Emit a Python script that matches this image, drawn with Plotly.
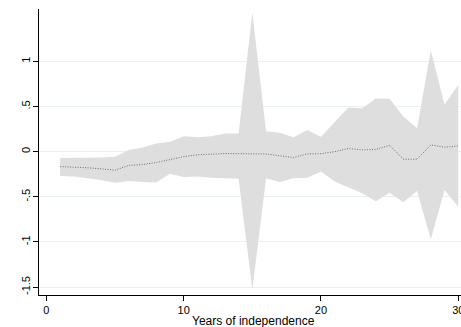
import plotly.graph_objects as go

years = list(range(1, 31))
estimate = [-0.165, -0.168, -0.178, -0.19, -0.205, -0.152, -0.142, -0.12, -0.085, -0.055,
            -0.035, -0.028, -0.02, -0.022, -0.02, -0.025, -0.045, -0.065, -0.025, -0.022,
            0.0, 0.035, 0.02, 0.025, 0.07, -0.083, -0.083, 0.075, 0.05, 0.063]
upper = [-0.07, -0.07, -0.07, -0.065, -0.055, 0.02, 0.045, 0.09, 0.11, 0.17,
         0.16, 0.17, 0.2, 0.2, 1.54, 0.225, 0.21, 0.16, 0.24, 0.165,
         0.33, 0.49, 0.48, 0.59, 0.585, 0.39, 0.26, 1.12, 0.52, 0.74]
lower = [-0.27, -0.275, -0.295, -0.315, -0.345, -0.325, -0.335, -0.34, -0.245, -0.28,
         -0.275, -0.29, -0.295, -0.3, -1.53, -0.295, -0.335, -0.295, -0.29, -0.22,
         -0.33, -0.395, -0.46, -0.55, -0.455, -0.56, -0.435, -0.97, -0.425, -0.61]

x_tickvals = [0, 10, 20, 30]
x_ticktext = ["0", "10", "20", "30"]
y_tickvals = [-1.5, -1, -0.5, 0, 0.5, 1]
y_ticktext = ["-1.5", "-1", "-.5", "0", ".5", "1"]

font = "Liberation Sans, Arial, sans-serif"

fig = go.Figure()
fig.add_trace(go.Scatter(x=years, y=upper, mode="lines", line=dict(width=0, color="#dedede"),
                         showlegend=False, hoverinfo="skip"))
fig.add_trace(go.Scatter(x=years, y=lower, mode="lines", line=dict(width=0, color="#dedede"),
                         fill="tonexty", fillcolor="#dedede", showlegend=False, hoverinfo="skip"))
fig.add_trace(go.Scatter(x=years, y=estimate, mode="lines",
                         line=dict(width=1, color="#707070", dash="1px,1.5px"), showlegend=False))

fig.update_layout(
    width=461, height=327,
    margin=dict(l=39, r=0, t=9, b=32, pad=0),
    paper_bgcolor="white", plot_bgcolor="white",
    font=dict(family=font, size=11, color="black"),
    xaxis=dict(range=[-0.54, 30.2], tickvals=x_tickvals, ticktext=x_ticktext, automargin=False,
               showgrid=False, zeroline=False, showline=True, linecolor="black", linewidth=1,
               ticks="outside", ticklen=5, tickcolor="black", tickwidth=1,
               ticklabeloverflow="allow",
               tickfont=dict(size=11, family=font)),
    yaxis=dict(range=[-1.587, 1.58], tickvals=y_tickvals, ticktext=y_ticktext, automargin=False,
               showgrid=True, gridcolor="#e8f0f1", gridwidth=1, zeroline=False,
               showline=True, linecolor="black", linewidth=1,
               ticks="outside", ticklen=5, tickcolor="black", tickwidth=1,
               ticklabelstandoff=-1,
               tickangle=-90, tickfont=dict(size=11, family=font)),
    annotations=[dict(text="Years of independence", xref="paper", yref="paper",
                      x=(253 - 39) / 422, y=-25.5 / 286, xanchor="center", yanchor="middle",
                      showarrow=False, font=dict(size=12, family=font))],
)

fig.write_html("out.html", config={"displayModeBar": False},
               post_script="document.body.style.margin='0';document.body.style.overflow='hidden';")
